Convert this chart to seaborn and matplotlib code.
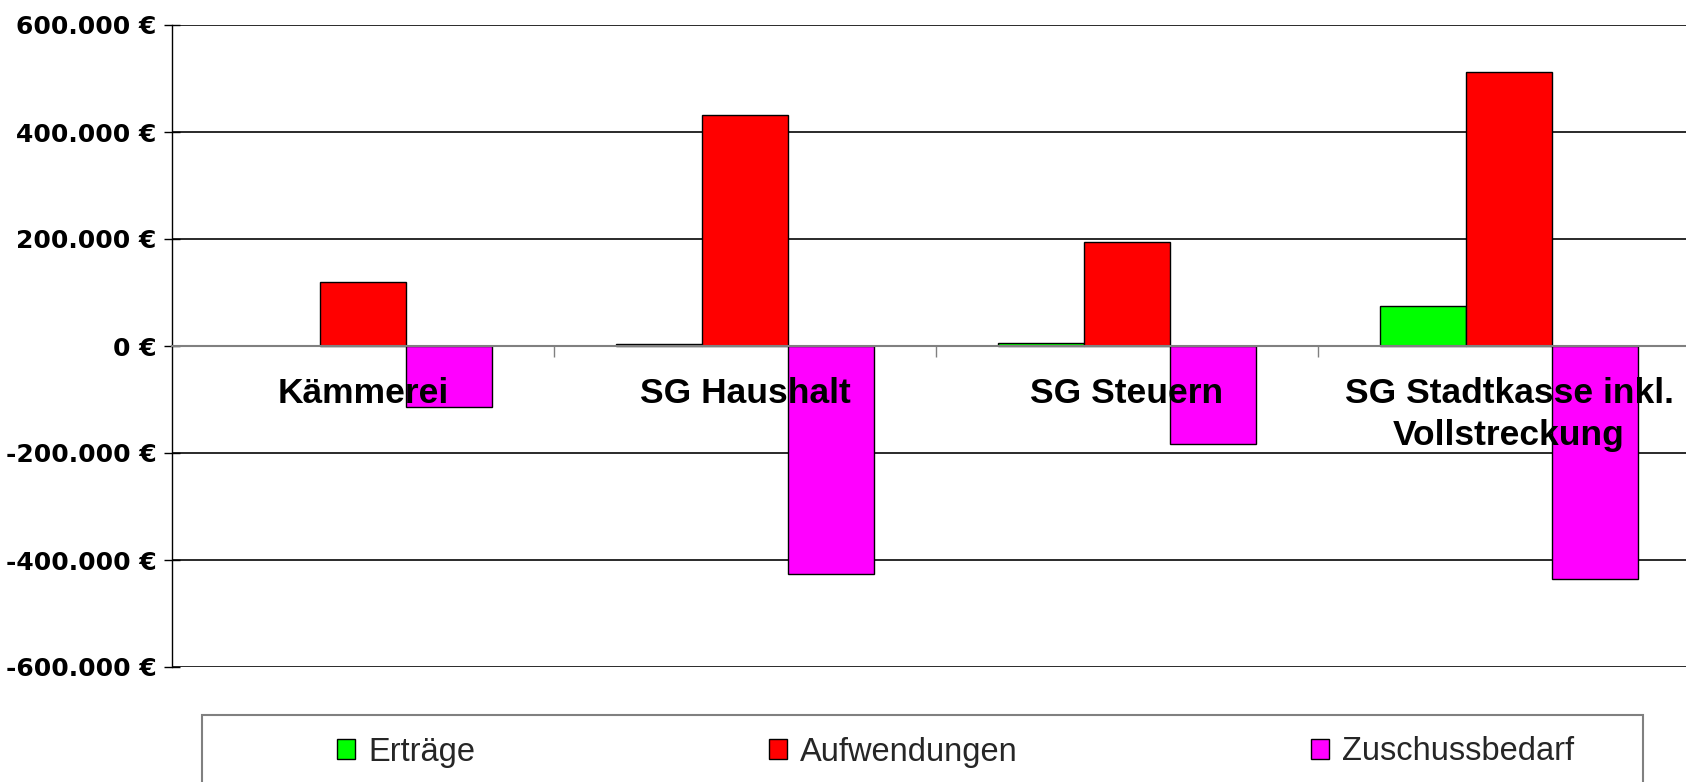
import matplotlib
matplotlib.use("Agg")
import matplotlib.pyplot as plt
import seaborn as sns
import pandas as pd
from matplotlib.patches import Patch, Rectangle
from matplotlib.ticker import FuncFormatter, FixedLocator

# ---- data ----
categories = ["Kämmerei", "SG Haushalt", "SG Steuern", "SG Stadtkasse inkl.\nVollstreckung"]
series = ["Erträge", "Aufwendungen", "Zuschussbedarf"]
ertraege = [0, 4500, 5000, 75000]
aufwendungen = [119000, 431000, 195000, 512000]
zuschussbedarf = [-114000, -426000, -184000, -436000]
colors = ["#00FF00", "#FF0000", "#FF00FF"]
y_ticks = [-600000, -400000, -200000, 0, 200000, 400000, 600000]

rows = []
for s, vals in zip(series, [ertraege, aufwendungen, zuschussbedarf]):
    for c, v in zip(categories, vals):
        rows.append({"Bereich": c, "Reihe": s, "Wert": v})
df = pd.DataFrame(rows)

sns.set_theme(style="white")
plt.rcParams["font.family"] = ["Liberation Sans", "DejaVu Sans"]

W, H = 1686, 782
fig = plt.figure(figsize=(W / 100, H / 100), dpi=100)
ax = fig.add_axes([172 / W, 1 - 667 / H, 1528 / W, 642 / H])

sns.barplot(data=df, x="Bereich", y="Wert", hue="Reihe", order=categories,
            hue_order=series, palette=colors, width=0.675, edgecolor="black",
            linewidth=1, saturation=1, legend=False, errorbar=None, ax=ax)

for p in ax.patches:
    if p.get_height() == 0:
        p.set_linewidth(0)

ax.set_xlim(-0.5, 3.5)
ax.set_ylim(-600000, 600000)
ax.set_xlabel("")
ax.set_ylabel("")

# grid
ax.set_axisbelow(True)
ax.yaxis.grid(True, color="#2a2a2a", linewidth=1.4)
ax.xaxis.grid(False)

# spines
ax.spines["top"].set_visible(False)
ax.spines["right"].set_visible(False)
ax.spines["left"].set_color("black")
ax.spines["left"].set_linewidth(1)
ax.spines["bottom"].set_position(("data", 0))
ax.spines["bottom"].set_color("#808080")
ax.spines["bottom"].set_linewidth(1.5)

# y axis
ax.set_yticks(y_ticks)
ax.yaxis.set_major_formatter(FuncFormatter(lambda v, pos: f"{v:,.0f} €".replace(",", ".")))
ax.tick_params(axis="y", which="major", left=True, direction="inout", length=12,
               width=1, color="black", pad=5)
for lab in ax.get_yticklabels():
    lab.set_fontfamily("DejaVu Sans")
    lab.set_fontweight("bold")
    lab.set_fontsize(18)
    lab.set_color("black")

# x axis
ax.set_xticks(range(len(categories)))
ax.set_xticklabels(categories, fontsize=25.5, fontweight="bold", color="black",
                   linespacing=1.35)
ax.tick_params(axis="x", which="major", bottom=True, length=0, pad=22)
ax.xaxis.set_minor_locator(FixedLocator([0.5, 1.5, 2.5]))
ax.tick_params(axis="x", which="minor", bottom=True, direction="out", length=8,
               width=1, color="#808080")
ax.xaxis.set_zorder(5)

# legend
handles = [Patch(facecolor=c, edgecolor="black", linewidth=1, label=s)
           for c, s in zip(colors, series)]
fig.legend(handles=handles, labels=series, loc="center left",
           bbox_to_anchor=(337 / W, 1 - 752 / H), ncol=3, frameon=False,
           fontsize=23.5, handlelength=0.55, handleheight=0.6,
           handletextpad=0.4, columnspacing=9.0, borderpad=0, borderaxespad=0)
fig.add_artist(Rectangle((202 / W, 1 - 800 / H), (1643 - 202) / W, (800 - 715) / H,
                         transform=fig.transFigure, fill=False,
                         edgecolor="#808080", linewidth=1.5))

fig.savefig("out.png", dpi=100)
